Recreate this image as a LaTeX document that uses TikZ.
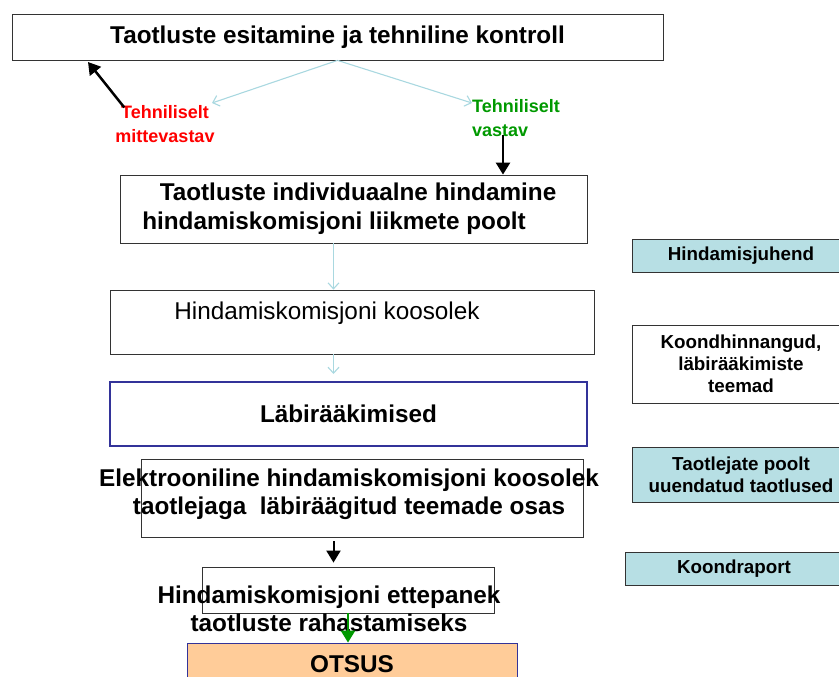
\documentclass[tikz,border=0pt]{standalone}
\usepackage{fontspec}
\setmainfont{Liberation Sans}
\usetikzlibrary{arrows.meta,positioning}
\definecolor{paleblue}{HTML}{B7DFE4}
\definecolor{arrowblue}{HTML}{A9D8E0}
\definecolor{navy}{HTML}{333399}
\definecolor{peach}{HTML}{FFCC99}
\definecolor{okgreen}{HTML}{009900}
\tikzset{
	box/.style={draw=black!80,line width=0.8pt,rectangle,align=center,font=\bfseries\fontsize{24.3}{28}\selectfont},
	side/.style={box,minimum width=218,font=\bfseries\fontsize{18.8}{22}\selectfont},
	given/.style={side,fill=paleblue},
	txt/.style={align=center,inner sep=0pt,font=\bfseries\fontsize{24.3}{28}\selectfont},
	verdict/.style={txt,font=\bfseries\fontsize{18}{23.5}\selectfont},
	lightarrow/.style={draw=arrowblue,line width=1.1pt,-{Straight Barb[length=6pt,width=11pt]}},
	heavy/.style={line width=2.5pt,-{Triangle[length=12pt,width=14pt]}}
}

\begin{document}
\begin{tikzpicture}[x=1pt,y=-1pt]
	\useasboundingbox (0,0) rectangle (839,677);
	\clip (0,0) rectangle (839,677);
	% main column
	\node[box,minimum width=651,minimum height=46] (tech) at (337.5,37) {Taotluste esitamine ja tehniline kontroll};
	\node[box,minimum width=467,minimum height=68,font=\bfseries\fontsize{24.3}{29}\selectfont] (indiv) at (353.5,209) {\kern9pt Taotluste individuaalne hindamine\\hindamiskomisjoni liikmete poolt\kern39pt};
	\node[box,minimum width=484,minimum height=64,font=\fontsize{24.3}{28}\selectfont,text depth=23pt] (koos) at (352,322) {Hindamiskomisjoni koosolek\kern50pt};
	\node[box,draw=navy,line width=2pt,minimum width=477,minimum height=64] (talks) at (348.5,414) {Läbirääkimised};
	\node[box,minimum width=442,minimum height=78] (elekbox) at (362,498) {};
	\node[txt] (elek) at (349,494) {Elektrooniline hindamiskomisjoni koosolek\\taotlejaga\ \ läbiräägitud teemade osas};
	\node[box,minimum width=292,minimum height=46] (propbox) at (348,590) {};
	\node[txt] (prop) at (329,609) {Hindamiskomisjoni ettepanek\\taotluste rahastamiseks};
	\node[box,draw=navy,fill=peach,minimum width=330,minimum height=42] (decision) at (352,664) {OTSUS};

	% check results
	\node[verdict,text=red] (fail) at (165,124) {Tehniliselt\\mittevastav};
	\node[verdict,text=okgreen,align=left,anchor=west] (pass) at (472,118) {Tehniliselt\\vastav};

	% side column
	\node[given,minimum height=33] (guide) at (741,255.5) {Hindamisjuhend};
	\node[side,minimum height=78] (summary) at (741,364) {Koondhinnangud,\\läbirääkimiste\\teemad};
	\node[given,minimum height=55] (updated) at (741,474.5) {Taotlejate poolt\\uuendatud taotlused};
	\node[given,minimum height=33] (report) at (734,568.5) {Koondraport};

	% connectors
	\coordinate (axis) at (333.5,0);
	\coordinate (toFail) at (212,103);
	\coordinate (toPass) at (472,103);
	\coordinate (retry) at (88,62);
	\coordinate (go) at (503,135);
	\draw[lightarrow] (tech.south) -- (toFail);
	\draw[lightarrow] (tech.south) -- (toPass);
	\draw[heavy] ([xshift=9pt,yshift=-2pt]fail.north west) -- (retry);
	\draw[heavy] (go) -- (go |- indiv.north);
	\draw[lightarrow] (indiv.south -| axis) -- (koos.north -| axis);
	\draw[lightarrow,shorten >=7pt] (koos.south -| axis) -- (talks.north -| axis);
	\draw[heavy,line width=2pt,shorten <=4pt,shorten >=4pt] (elekbox.south -| axis) -- (propbox.north -| axis);
	\draw[heavy,okgreen] (propbox.south) -- (propbox.south |- decision.north);
\end{tikzpicture}
\end{document}
